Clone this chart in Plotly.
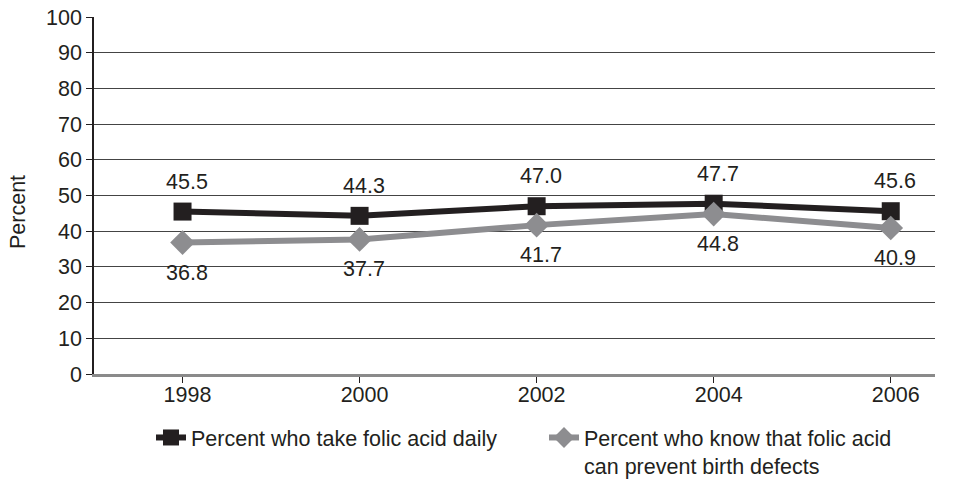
import plotly.graph_objects as go

# Survey years and the two measured percentages
years = ["1998", "2000", "2002", "2004", "2006"]
take_daily = [45.5, 44.3, 47.0, 47.7, 45.6]
know_prevents = [36.8, 37.7, 41.7, 44.8, 40.9]

series_names = [
    "Percent who take folic acid daily",
    "Percent who know that folic acid<br>can prevent birth defects",
]

DARK = "#231f20"
GREY = "#8d8d90"
FONT = dict(family="Liberation Sans, Arial, sans-serif", size=21.5, color=DARK)

W, H = 968, 481
ML, MR, MT, MB = 94, 33, 17, 107
PW, PH = W - ML - MR, H - MT - MB

x_idx = list(range(len(years)))

fig = go.Figure()
fig.add_trace(go.Scatter(
    x=x_idx, y=take_daily, mode="lines+markers", name=series_names[0],
    line=dict(color=DARK, width=6),
    marker=dict(symbol="square", size=18, color=DARK),
))
fig.add_trace(go.Scatter(
    x=x_idx, y=know_prevents, mode="lines+markers", name=series_names[1],
    line=dict(color=GREY, width=6),
    marker=dict(symbol="diamond", size=19, color=GREY),
))

# Value labels: above the daily-intake line, below the awareness line
annotations = []
for xi, v in zip(x_idx, take_daily):
    annotations.append(dict(x=xi, y=v, xref="x", yref="y", text=f"{v:.1f}",
                            showarrow=False, yshift=30, xshift=4, font=FONT))
for xi, v in zip(x_idx, know_prevents):
    annotations.append(dict(x=xi, y=v, xref="x", yref="y", text=f"{v:.1f}",
                            showarrow=False, yshift=-30, xshift=4, font=FONT))
# vertical axis title, placed in pixel terms relative to the plot area
annotations.append(dict(x=(18 - ML) / PW, y=(H - MB - 212) / PH,
                        xref="paper", yref="paper", text="Percent",
                        textangle=-90, showarrow=False, font=FONT,
                        xanchor="center", yanchor="middle"))

fig.update_layout(
    width=W, height=H,
    margin=dict(l=ML, r=MR, t=MT, b=MB, autoexpand=False),
    plot_bgcolor="white", paper_bgcolor="white",
    font=FONT,
    showlegend=True,
    legend=dict(orientation="h", x=(151 - ML) / PW, xanchor="left",
                y=-(417 - (H - MB)) / PH, yanchor="top",
                font=FONT, entrywidth=348, entrywidthmode="pixels",
                traceorder="normal", valign="top", bgcolor="rgba(0,0,0,0)"),
    annotations=annotations,
)

fig.update_xaxes(
    range=[-0.5, 4.25], tickmode="array", tickvals=x_idx, ticktext=years,
    tickson="boundaries", ticks="outside", ticklen=6, tickcolor=DARK, tickwidth=1,
    showline=True, linecolor="#8a8a8a", linewidth=2.5, showgrid=False,
    zeroline=False, ticklabelshift=5, ticklabelstandoff=-7, tickfont=FONT,
)
fig.update_yaxes(
    range=[0, 100], dtick=10, tick0=0, ticks="outside", ticklen=6,
    tickcolor=DARK, tickwidth=1, showline=True, linecolor=DARK, linewidth=1.5,
    showgrid=True, gridcolor="#444444", gridwidth=1.2, zeroline=False,
    tickfont=FONT,
)

fig.write_html("out.html")
